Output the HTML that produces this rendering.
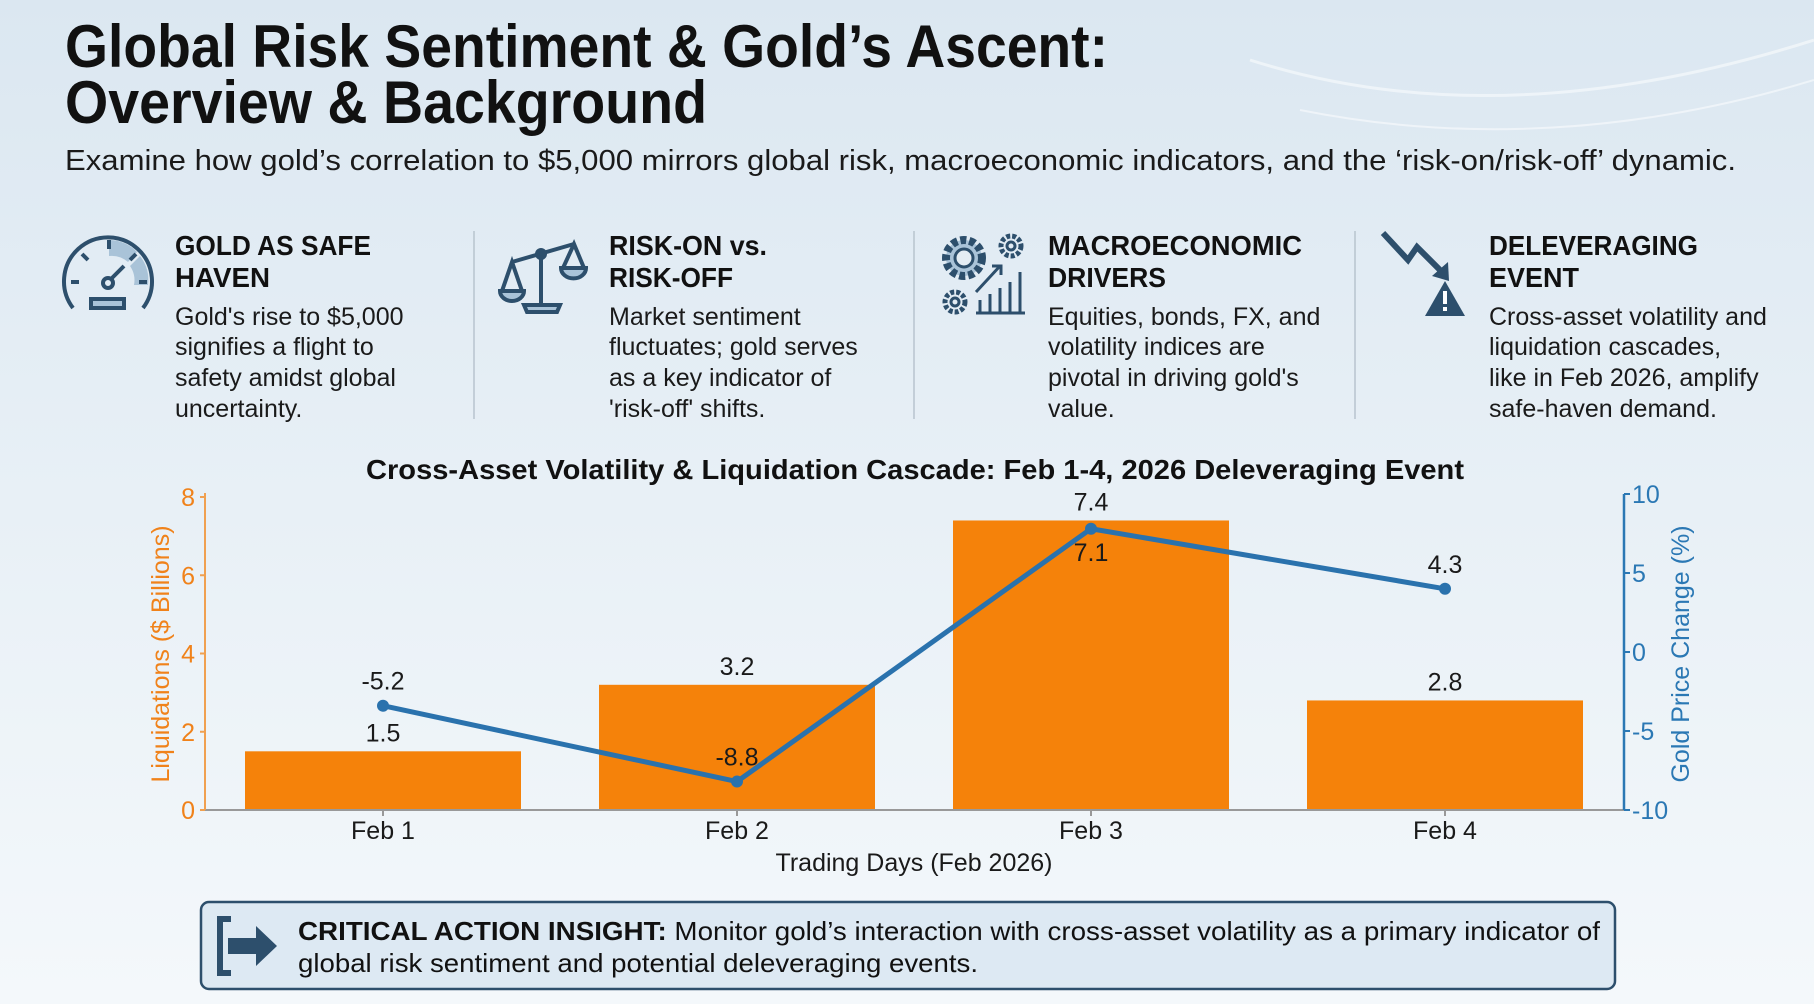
<!DOCTYPE html>
<html><head><meta charset="utf-8"><style>
html,body{margin:0;padding:0;width:1814px;height:1004px;overflow:hidden}
svg{display:block;font-family:"Liberation Sans",sans-serif}
</style></head><body>
<svg id="root" width="1814" height="1004" viewBox="0 0 1814 1004">
<defs>
<linearGradient id="bg" x1="0" y1="0" x2="0" y2="1">
<stop offset="0" stop-color="#dbe7f1"/><stop offset="0.5" stop-color="#e8f0f6"/><stop offset="1" stop-color="#f4f8fb"/>
</linearGradient>
</defs>
<rect width="1814" height="1004" fill="url(#bg)"/>
<path d="M1250 60 Q1500 140 1814 40" stroke="#ffffff" stroke-width="3" fill="none" opacity="0.5"/>
<path d="M1300 110 Q1550 160 1814 80" stroke="#ffffff" stroke-width="2" fill="none" opacity="0.5"/>

<g fill="#111" font-weight="bold">
<text x="65" y="67" font-size="60" textLength="1043" lengthAdjust="spacingAndGlyphs">Global Risk Sentiment &amp; Gold’s Ascent:</text>
<text x="65" y="123" font-size="60" textLength="642" lengthAdjust="spacingAndGlyphs">Overview &amp; Background</text>
</g>
<text x="65" y="170" font-size="29" fill="#1a1a1a" textLength="1671" lengthAdjust="spacingAndGlyphs">Examine how gold’s correlation to $5,000 mirrors global risk, macroeconomic indicators, and the ‘risk-on/risk-off’ dynamic.</text>

<g stroke="#b8c4ce" stroke-width="1.5">
<line x1="474" y1="231" x2="474" y2="419"/><line x1="914" y1="231" x2="914" y2="419"/><line x1="1355" y1="231" x2="1355" y2="419"/>
</g>

<g stroke="#2d4f6c" stroke-width="4" fill="none">
<path d="M109 240 A38 38 0 0 1 137 252 L128 262 A25 25 0 0 0 109 256Z" fill="#a9c3d8" stroke="none"/>
<path d="M140 256 A38 38 0 0 1 148 285 L134 285 A25 25 0 0 0 130 266Z" fill="#a9c3d8" stroke="none"/>
<path d="M73 308 A44 44 0 1 1 143 308"/>
<line x1="109" y1="240" x2="109" y2="249"/><line x1="82" y1="254" x2="88" y2="260"/><line x1="136" y1="254" x2="130" y2="260"/>
<line x1="71" y1="282" x2="79" y2="282"/><line x1="147" y1="282" x2="139" y2="282"/>
<circle cx="108" cy="283" r="5"/><line x1="111" y1="279" x2="124" y2="266"/>
<rect x="91" y="299" width="33" height="9" fill="#a9c3d8"/>
</g>
<g stroke="#2d4f6c" stroke-width="4" fill="none">
<line x1="541" y1="250" x2="541" y2="308"/><line x1="512" y1="262" x2="574" y2="244"/>
<circle cx="541" cy="254" r="4"/>
<path d="M502 291 L512 262 L522 291"/><path d="M500 291 H524 A12 10 0 0 1 500 291Z" fill="#a9c3d8"/>
<path d="M563 268 L574 244 L584 268"/><path d="M561 268 H586 A12 10 0 0 1 561 268Z" fill="#a9c3d8"/>
<path d="M527 312 H557 L560 305 H524Z" fill="#a9c3d8"/>
</g>
<g stroke="#2d4f6c" stroke-width="3" fill="none">
<circle cx="964" cy="258" r="18" fill="#a9c3d8" stroke-dasharray="6 3" stroke-width="8"/><circle cx="964" cy="258" r="9" fill="#e4edf4"/>
<circle cx="1011" cy="246" r="10" stroke-dasharray="4 2" stroke-width="5"/><circle cx="1011" cy="246" r="4"/>
<circle cx="955" cy="302" r="10" stroke-dasharray="4 2" stroke-width="5"/><circle cx="955" cy="302" r="4"/>
<path d="M976 313 H1025 M980 312 V300 M990 312 V294 M1000 312 V288 M1010 312 V282 M1020 312 V272"/>
<path d="M976 292 L1000 266 M992 266 H1001 V275"/>
</g>
<g>
<path d="M1383 233 L1408 260 L1417 247 L1442 272" stroke="#2d4f6c" stroke-width="6" fill="none"/>
<path d="M1432 276 L1448 262 L1449 281Z" fill="#2d4f6c"/>
<path d="M1445 281 L1465 316 H1425Z" fill="#2d4f6c"/>
<rect x="1443" y="291" width="4" height="13" fill="#fff"/><rect x="1443" y="307" width="4" height="4" fill="#fff"/>
</g>

<g font-size="28" font-weight="bold" fill="#111">
<text x="175" y="255" textLength="196" lengthAdjust="spacingAndGlyphs">GOLD AS SAFE</text><text x="175" y="287" textLength="95" lengthAdjust="spacingAndGlyphs">HAVEN</text>
<text x="609" y="255" textLength="158" lengthAdjust="spacingAndGlyphs">RISK-ON vs.</text><text x="609" y="287" textLength="124" lengthAdjust="spacingAndGlyphs">RISK-OFF</text>
<text x="1048" y="255" textLength="254" lengthAdjust="spacingAndGlyphs">MACROECONOMIC</text><text x="1048" y="287" textLength="118" lengthAdjust="spacingAndGlyphs">DRIVERS</text>
<text x="1489" y="255" textLength="209" lengthAdjust="spacingAndGlyphs">DELEVERAGING</text><text x="1489" y="287" textLength="90" lengthAdjust="spacingAndGlyphs">EVENT</text>
</g>
<g font-size="25" fill="#1a1a1a">
<text x="175" y="325">Gold's rise to $5,000</text><text x="175" y="355">signifies a flight to</text><text x="175" y="386">safety amidst global</text><text x="175" y="417">uncertainty.</text>
<text x="609" y="325">Market sentiment</text><text x="609" y="355">fluctuates; gold serves</text><text x="609" y="386">as a key indicator of</text><text x="609" y="417">'risk-off' shifts.</text>
<text x="1048" y="325">Equities, bonds, FX, and</text><text x="1048" y="355">volatility indices are</text><text x="1048" y="386">pivotal in driving gold's</text><text x="1048" y="417">value.</text>
<text x="1489" y="325">Cross-asset volatility and</text><text x="1489" y="355">liquidation cascades,</text><text x="1489" y="386">like in Feb 2026, amplify</text><text x="1489" y="417">safe-haven demand.</text>
</g>

<text x="915" y="479" text-anchor="middle" font-size="28" font-weight="bold" fill="#111" textLength="1098" lengthAdjust="spacingAndGlyphs">Cross-Asset Volatility &amp; Liquidation Cascade: Feb 1-4, 2026 Deleveraging Event</text>
<g id="chart"></g>

<text transform="translate(169,654) rotate(-90)" text-anchor="middle" font-size="25" fill="#f0821a">Liquidations ($ Billions)</text>
<text transform="translate(1689,654) rotate(-90)" text-anchor="middle" font-size="25" fill="#2b78b4">Gold Price Change (%)</text>
<text x="914" y="871" text-anchor="middle" font-size="25" fill="#1a1a1a">Trading Days (Feb 2026)</text>

<g>
<rect x="201" y="902" width="1414" height="87" rx="8" fill="#dde9f3" stroke="#2d4f6c" stroke-width="2.5"/>
<path d="M231 919 H220 V973 H231" stroke="#2d4f6c" stroke-width="6" fill="none"/>
<path d="M228 938 H256 V926 L277 946 L256 966 V954 H228Z" fill="#2d4f6c"/>
<text x="298" y="940" font-size="26" fill="#111" textLength="1302" lengthAdjust="spacingAndGlyphs"><tspan font-weight="bold">CRITICAL ACTION INSIGHT:</tspan> Monitor gold’s interaction with cross-asset volatility as a primary indicator of</text>
<text x="298" y="972" font-size="26" fill="#111" textLength="680" lengthAdjust="spacingAndGlyphs">global risk sentiment and potential deleveraging events.</text>
</g>
</svg>
<script>
const categories = ["Feb 1","Feb 2","Feb 3","Feb 4"];
const liquidations = [1.5, 3.2, 7.4, 2.8];
const liqLabels = ["1.5","3.2","7.4","2.8"];
const goldChange = [-3.4, -8.2, 7.8, 4.0];
const goldLabels = ["-5.2","-8.8","7.1","4.3"];
const leftTicks = [0,2,4,6,8];
const rightTicks = [-10,-5,0,5,10];

const NS="http://www.w3.org/2000/svg";
const g=document.getElementById('chart');
const X0=205, X1=1624, Y0=810, YT=497, YRT=494;
const step=354, firstX=383, barW=276;
const xPos=i=>firstX+i*step;
const yL=v=>Y0-(v/8)*(Y0-YT);
const yR=v=>Y0-((v+10)/20)*(Y0-YRT);
function mk(t,a){const e=document.createElementNS(NS,t);for(const k in a)e.setAttribute(k,a[k]);g.appendChild(e);return e;}

liquidations.forEach((v,i)=>{
  const r=mk('rect',{x:xPos(i)-barW/2,y:yL(v),width:barW,height:Y0-yL(v),fill:'#f5820a'});
  
  
});
mk('line',{x1:X0,y1:Y0,x2:X1,y2:Y0,stroke:'#999','stroke-width':2});
const la=mk('line',{x1:X0,y1:YT-4,x2:X0,y2:Y0,stroke:'#f0a050','stroke-width':2});


const ra=mk('line',{x1:X1,y1:YRT,x2:X1,y2:Y0,stroke:'#2b78b4','stroke-width':2.5});


leftTicks.forEach(v=>{
  mk('line',{x1:X0-5,y1:yL(v),x2:X0,y2:yL(v),stroke:'#f0a050','stroke-width':2});
  const t=mk('text',{x:X0-10,y:yL(v)+9,'text-anchor':'end','font-size':25,fill:'#f0821a'});t.textContent=v;
  
  
});
rightTicks.forEach(v=>{
  mk('line',{x1:X1,y1:yR(v),x2:X1+6,y2:yR(v),stroke:'#2b78b4','stroke-width':2});
  const t=mk('text',{x:X1+8,y:yR(v)+9,'font-size':25,fill:'#2b78b4'});t.textContent=v;
  
  
});
categories.forEach((c,i)=>{
  mk('line',{x1:xPos(i),y1:Y0,x2:xPos(i),y2:Y0+6,stroke:'#999','stroke-width':2});
  const t=mk('text',{x:xPos(i),y:839,'text-anchor':'middle','font-size':25,fill:'#1a1a1a'});t.textContent=c;
  
  
});
liqLabels.forEach((s,i)=>{
  const t=mk('text',{x:xPos(i),y:yL(liquidations[i])-10,'text-anchor':'middle','font-size':25,fill:'#1a1a1a'});t.textContent=s;
  
  
});
const pts=goldChange.map((v,i)=>xPos(i)+','+yR(v)).join(' ');
const pl=mk('polyline',{points:pts,fill:'none',stroke:'#2a72ad','stroke-width':5,'stroke-linejoin':'round'});


goldChange.forEach((v,i)=>{
  const c=mk('circle',{cx:xPos(i),cy:yR(v),r:6,fill:'#2a72ad'});
  
  
  const below = i===2;
  const t=mk('text',{x:xPos(i),y:below?yR(v)+32:yR(v)-16,'text-anchor':'middle','font-size':25,fill:'#1a1a1a'});t.textContent=goldLabels[i];
  
  
});
</script>
</body></html>
